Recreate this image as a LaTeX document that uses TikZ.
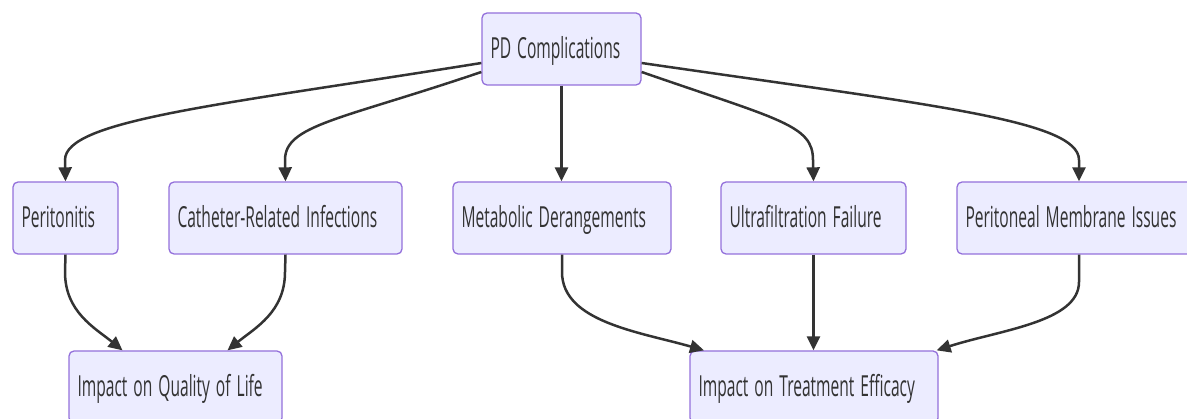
\documentclass[tikz,border=0pt]{standalone}
\usepackage{fontspec}
\usetikzlibrary{arrows.meta}
\newfontfamily\nodefont[FakeStretch=0.537]{Open Sans}
\newcommand\boxfont{\nodefont\fontsize{29}{34}\selectfont}
\definecolor{boxfill}{HTML}{ECECFF}
\definecolor{boxline}{HTML}{9370DB}
\definecolor{ink}{HTML}{333333}
\begin{document}
\begin{tikzpicture}[x=1pt,y=-1pt,
  box/.style={draw=boxline, fill=boxfill, line width=1.3pt, rounded corners=5pt,
    minimum height=72pt, inner xsep=8.5pt, inner ysep=0pt, align=left,
    text height=20pt, text depth=0pt, text=ink, font=\boxfont,
    execute at begin node={\spaceskip=6pt\relax\xspaceskip=6pt\relax}},
  link/.style={draw=ink, line width=2.5pt, -{Triangle[length=14pt,width=13pt]}},
]
\useasboundingbox (0,0) rectangle (1187,419);
\node[box, text width=142pt] (pd)  at (561.5,49) {PD Complications};
\node[box, text width=88pt]  (per) at (65.5,218) {Peritonitis};
\node[box, text width=216pt] (cat) at (285.5,218) {Catheter-Related Infections};
\node[box, text width=201pt] (met) at (562,218) {Metabolic Derangements};
\node[box, text width=168pt] (ult) at (813.5,218) {Ultrafiltration Failure};
\node[box, text width=227pt] (mem) at (1079,218) {Peritoneal Membrane Issues};
\node[box, text width=196pt] (qol) at (175.5,387) {Impact on Quality of Life};
\node[box, text width=231pt] (eff) at (814,387) {Impact on Treatment Efficacy};

\draw[link] ([yshift=-14pt]pd.west) .. controls (220,105) and (65,120) .. (65,160) -- (per.north);
\draw[link] ([yshift=-23pt]pd.west) .. controls (340,120) and (285,125) .. (285,160) -- (cat.north);
\draw[link] (pd.south) -- (pd.south |- met.north);
\draw[link] ([yshift=-23pt]pd.east) .. controls (780,120) and (813,125) .. (813,160) -- (ult.north);
\draw[link] ([yshift=-14pt]pd.east) .. controls (930,105) and (1079,120) .. (1079,160) -- (mem.north);

\draw[link] (per.south) -- (65,272) .. controls (65,312) and (95,328) .. ([xshift=-53pt]qol.north);
\draw[link] (cat.south) -- (285,272) .. controls (285,312) and (255,328) .. ([xshift=52pt]qol.north);
\draw[link] (met.south) -- (562,272) .. controls (562,322) and (640,332) .. ([xshift=-110pt]eff.north);
\draw[link] (ult.south) -- (ult.south |- eff.north);
\draw[link] (mem.south) -- (1079,282) .. controls (1079,322) and (1000,330) .. ([xshift=-2pt]eff.north east);
\end{tikzpicture}
\end{document}
